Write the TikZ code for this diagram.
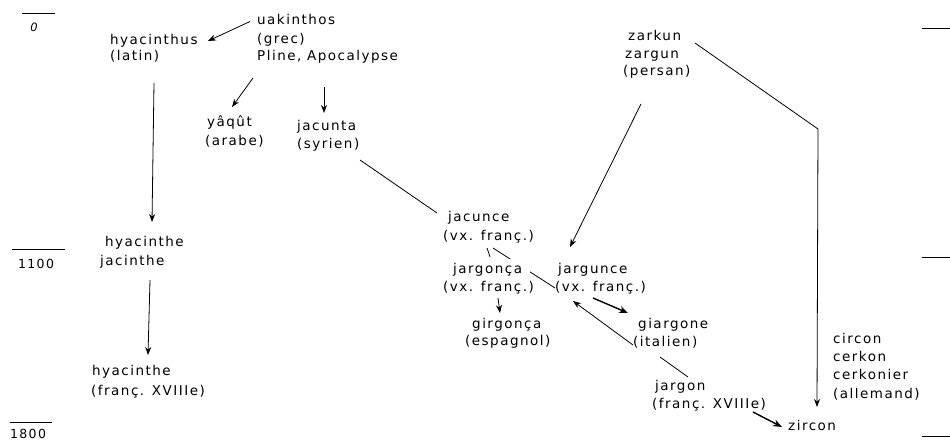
\documentclass[tikz,border=0pt]{standalone}
\usepackage{fontspec}
\setmainfont{DejaVu Sans}[LetterSpace=11]
\usetikzlibrary{arrows.meta,calc}
\pgfdeclarelayer{bg}
\pgfsetlayers{bg,main}
\begin{document}
\begin{tikzpicture}[x=1pt,y=-1pt,
  lbl/.style={anchor=base west, inner sep=0pt, font=\fontsize{13.5pt}{18pt}\selectfont},
  knock/.style={lbl, fill=white, inner xsep=8pt, inner ysep=4pt},
  num/.style={anchor=base, inner sep=0pt, font=\fontsize{12.5pt}{14pt}\selectfont},
  con/.style={line width=0.8pt},
  arr/.style={con, -{Stealth[length=8pt,width=6pt]}},
  barr/.style={line width=1.4pt, -{Stealth[length=9pt,width=7pt]}},
  yeartick/.style={line width=0.9pt}]
\useasboundingbox (0,0) rectangle (950,441);

% year marks
\draw[yeartick] (22,13) -- (55,13);
\node[num, font=\fontsize{11.5pt}{13pt}\selectfont\itshape] (t0) at (34,32) {0};
\draw[yeartick] (12,249) -- (65,249);
\node[num] (t1100) at (36,268) {1100};
\draw[yeartick] (10,422) -- (52,422);
\node[num] (t1800) at (28,438) {1800};
\draw[yeartick] (922,28) -- (950,28);
\draw[yeartick] (922,257) -- (950,257);
\draw[yeartick] (922,436) -- (950,436);

% labels
\node[lbl] (uak) at (257,24.5) {uakinthos};
\node[lbl] (grec) at (257,43.5) {(grec)};
\node[lbl] (pline) at (257,61) {Pline, Apocalypse};
\node[lbl] (hyac) at (110,45) {hyacinthus};
\node[lbl] (latin) at (110,61) {(latin)};
\node[lbl] (yaqut) at (207,126.5) {yâqût};
\node[lbl] (arabe) at (205,145.5) {(arabe)};
\node[lbl] (jacunta) at (297,130.5) {jacunta};
\node[lbl] (syrien) at (297,148.5) {(syrien)};
\node[lbl] (hyacM) at (105,246.5) {hyacinthe};
\node[lbl] (jacinthe) at (100,265.5) {jacinthe};
\node[lbl] (hyacB) at (92,375.5) {hyacinthe};
\node[lbl] (francA) at (91,395.5) {(franç. XVIIIe)};
\node[lbl] (jacunce) at (448,221.5) {jacunce};
\node[lbl] (vxA) at (443,240.5) {(vx. franç.)};
\node[knock] (jargonca) at (445,273.5) {jargonça};
\node[lbl] (vxB) at (443,291.5) {(vx. franç.)};
\node[lbl] (jargunce) at (558,273.5) {jargunce};
\node[lbl] (vxC) at (555,291.5) {(vx. franç.)};
\node[lbl] (girgonca) at (472,328.5) {girgonça};
\node[lbl] (espagnol) at (465,345.5) {(espagnol)};
\node[lbl] (giargone) at (638,328.5) {giargone};
\node[lbl] (italien) at (633,346.5) {(italien)};
\node[lbl] (jargon) at (655,390.5) {jargon};
\node[lbl] (francB) at (652,408.5) {(franç. XVIIIe)};
\node[lbl] (zircon) at (788,430.5) {zircon};
\node[lbl] (zarkun) at (628,40.5) {zarkun};
\node[lbl] (zargun) at (625,58.5) {zargun};
\node[lbl] (persan) at (623,75.5) {(persan)};
\node[lbl] (circon) at (833,343.5) {circon};
\node[lbl] (cerkon) at (833,361.5) {cerkon};
\node[lbl] (cerkonier) at (833,379.5) {cerkonier};
\node[lbl] (allemand) at (833,398.5) {(allemand)};

% connectors
\draw[arr] ($(uak.base west)+(-7,-3)$) -- ($(hyac.base west)+(98,-4)$);
\draw[arr] ($(pline.base west)+(-4,17)$) -- ($(yaqut.base west)+(25,-19.5)$);
\draw[arr] ($(pline.base west)+(67,26)$) -- ($(jacunta.base west)+(27,-17.5)$);
\draw[arr] ($(latin.base west)+(44,22)$) -- ($(hyacM.base west)+(47,-24.5)$);
\draw[arr] ($(jacinthe.base west)+(50,14.5)$) -- ($(hyacB.base west)+(56,-20.5)$);
\draw[con] ($(syrien.base west)+(63,11.5)$) -- ($(jacunce.base west)+(-11,-8.5)$);
\draw[con] ($(vxA.base west)+(44,7.5)$) -- ($(jargonca.base west)+(45,-16.5)$);
\begin{pgfonlayer}{bg}
\draw[con] ($(vxA.base west)+(50,7.5)$) -- ($(vxC.base west)+(0,-3.5)$);
\end{pgfonlayer}
\draw[arr] ($(vxB.base west)+(55,6.5)$) -- ($(girgonca.base west)+(28,-15.5)$);
\draw[barr] ($(vxC.base west)+(38,6.5)$) -- ($(giargone.base west)+(-10,-15.5)$);
\draw[arr] ($(italien.base west)+(0,-1.5)$) -- ($(vxC.base west)+(18,9.5)$);
\draw[con] ($(italien.base west)+(27,10.5)$) -- ($(jargon.base west)+(33,-13.5)$);
\draw[barr] ($(francB.base west)+(101,3.5)$) -- ($(zircon.base west)+(-6,-3.5)$);
\draw[arr] ($(persan.base west)+(18,28.5)$) -- ($(jargunce.base west)+(12,-26.5)$);
\coordinate (bend) at (818,129);
\draw[arr] ($(zarkun.base west)+(67,2.5)$) -- (bend) -- ($(zircon.base west)+(29,-23.5)$);
\end{tikzpicture}
\end{document}
